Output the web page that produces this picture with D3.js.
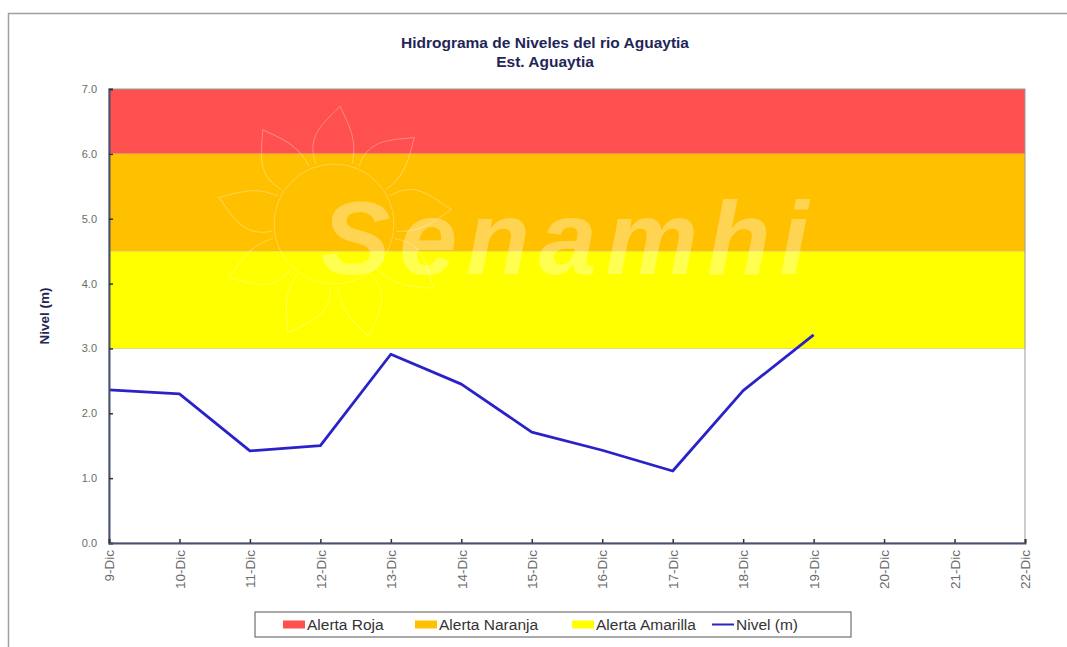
<!DOCTYPE html>
<html>
<head>
<meta charset="utf-8">
<script src="https://cdn.jsdelivr.net/npm/d3@7"></script>
<style>
  body { margin: 0; background: #fff; }
  svg { display: block; font-family: Arial, "Liberation Sans", sans-serif; }
</style>
</head>
<body>
<div id="chart"></div>
<script>
// dates on the x axis (days of December)
const days = [9, 10, 11, 12, 13, 14, 15, 16, 17, 18, 19, 20, 21, 22];
const dayLabels = days.map(d => d + "-Dic");

// river level readings (m)
const levelDays = [9, 10, 11, 12, 13, 14, 15, 16, 17, 18, 19];
const levels = [2.36, 2.30, 1.42, 1.50, 2.91, 2.45, 1.71, 1.43, 1.11, 2.35, 3.21];

// alert bands
const bandNames = ["Alerta Roja", "Alerta Naranja", "Alerta Amarilla"];
const bandLow = [6.0, 4.5, 3.0];
const bandHigh = [7.0, 6.0, 4.5];
const bandColors = ["#ff5050", "#ffc000", "#ffff00"];

const yTicks = [0, 1, 2, 3, 4, 5, 6, 7];

const W = 1067, H = 647;
const margin = {top: 89, right: 42, bottom: 104, left: 109};
const width = W - margin.left - margin.right;
const height = H - margin.top - margin.bottom;

const svg = d3.select("#chart").append("svg")
  .attr("width", W)
  .attr("height", H);

// outer frame (top and left edges visible)
svg.append("path")
  .attr("d", `M8.5,${H} V13.5 H${W}`)
  .attr("fill", "none")
  .attr("stroke", "#a0a0a0")
  .attr("stroke-width", 1.5);

// title
svg.append("text")
  .attr("x", 545).attr("y", 48)
  .attr("text-anchor", "middle")
  .attr("font-size", 15.5).attr("font-weight", "bold")
  .attr("fill", "#1f2657")
  .text("Hidrograma de Niveles del rio Aguaytia");
svg.append("text")
  .attr("x", 545).attr("y", 67)
  .attr("text-anchor", "middle")
  .attr("font-size", 15.5).attr("font-weight", "bold")
  .attr("fill", "#1f2657")
  .text("Est. Aguaytia");

const g = svg.append("g")
  .attr("transform", `translate(${margin.left},${margin.top})`);

const x = d3.scaleLinear().domain([9, 22]).range([0, width]);
const y = d3.scaleLinear().domain([0, 7]).range([height, 0]);

// alert bands
g.selectAll(".band")
  .data(bandNames)
  .enter().append("rect")
  .attr("class", "band")
  .attr("x", 0)
  .attr("width", width)
  .attr("y", (d, i) => y(bandHigh[i]))
  .attr("height", (d, i) => y(bandLow[i]) - y(bandHigh[i]))
  .attr("fill", (d, i) => bandColors[i]);

// band separators
g.selectAll(".sep")
  .data(bandLow)
  .enter().append("line")
  .attr("x1", 0).attr("x2", width)
  .attr("y1", d => y(d)).attr("y2", d => y(d))
  .attr("stroke", "#d8c060")
  .attr("stroke-width", 1)
  .attr("stroke-opacity", 0.6);

// watermark logo (sun outline + name)
const cx = 225, cy = 135, r = 60;
const sun = g.append("g").attr("opacity", 0.3);
sun.append("circle")
  .attr("cx", cx).attr("cy", cy).attr("r", r)
  .attr("fill", "none").attr("stroke", "#fff").attr("stroke-width", 1);
sun.selectAll(".petal")
  .data(d3.range(0, 360, 40))
  .enter().append("path")
  .attr("transform", d => `translate(${cx},${cy}) rotate(${d})`)
  .attr("d", `M-18,${-r} C-30,${-r - 30} -5,${-r - 45} 6,${-r - 58} C14,${-r - 40} 24,${-r - 25} 18,${-r}`)
  .attr("fill", "none").attr("stroke", "#fff").attr("stroke-width", 1);
g.append("text")
  .attr("x", 212).attr("y", 185)
  .attr("font-size", 104).attr("font-weight", 900).attr("font-style", "italic")
  .attr("fill", "#fff").attr("opacity", 0.32)
  .attr("letter-spacing", 9)
  .text("Senamhi");

// plot border (right/top)
g.append("rect")
  .attr("width", width).attr("height", height)
  .attr("fill", "none")
  .attr("stroke", "#9a9a9a")
  .attr("stroke-width", 1);

// level line
const line = d3.line()
  .x((d, i) => x(levelDays[i]))
  .y(d => y(d));
g.append("path")
  .datum(levels)
  .attr("fill", "none")
  .attr("stroke", "#2a22c8")
  .attr("stroke-width", 2.8)
  .attr("stroke-linejoin", "round")
  .attr("d", line);

// y axis
const yAxis = g.append("g")
  .call(d3.axisLeft(y).tickValues(yTicks).tickFormat(d3.format(".1f")).tickSize(-4).tickPadding(12));
yAxis.select(".domain").attr("stroke", "#4a5070").attr("stroke-width", 2);
yAxis.selectAll(".tick line").attr("stroke", "#333").attr("stroke-width", 1.5);
yAxis.selectAll(".tick text").attr("fill", "#6a6a6a").attr("font-size", 11);

// x axis
const xAxis = g.append("g")
  .attr("transform", `translate(0,${height})`)
  .call(d3.axisBottom(x).tickValues(days).tickFormat((d, i) => dayLabels[i]).tickSize(-4).tickPadding(6));
xAxis.select(".domain").attr("stroke", "#4a5070").attr("stroke-width", 2);
xAxis.selectAll(".tick line").attr("stroke", "#333").attr("stroke-width", 1.5);
xAxis.selectAll(".tick text")
  .attr("fill", "#6a6a6a").attr("font-size", 13.5)
  .attr("transform", "rotate(-90)")
  .attr("text-anchor", "end")
  .attr("x", -7).attr("y", 0).attr("dy", "0.35em");

// y axis title
svg.append("text")
  .attr("transform", `translate(49,${margin.top + height / 2}) rotate(-90)`)
  .attr("text-anchor", "middle")
  .attr("font-size", 13.5).attr("font-weight", "bold")
  .attr("fill", "#1f2657")
  .text("Nivel (m)");

// legend
const legend = svg.append("g").attr("transform", "translate(255,612)");
legend.append("rect")
  .attr("width", 596).attr("height", 25)
  .attr("fill", "#fff").attr("stroke", "#555").attr("stroke-width", 1);
const legendItems = bandNames.concat(["Nivel (m)"]);
const legendX = [28, 160, 317, 457];
const legendColors = bandColors.concat(["#2a22c8"]);
const li = legend.selectAll(".li")
  .data(legendItems)
  .enter().append("g")
  .attr("transform", (d, i) => `translate(${legendX[i]},12.5)`);
li.append("rect")
  .attr("x", 0).attr("y", (d, i) => i < 3 ? -4 : -1)
  .attr("width", 22).attr("height", (d, i) => i < 3 ? 8 : 2)
  .attr("fill", (d, i) => legendColors[i]);
li.append("text")
  .attr("x", 24).attr("dy", "0.35em")
  .attr("font-size", 15.5)
  .attr("fill", "#333")
  .text(d => d);
</script>
</body>
</html>
